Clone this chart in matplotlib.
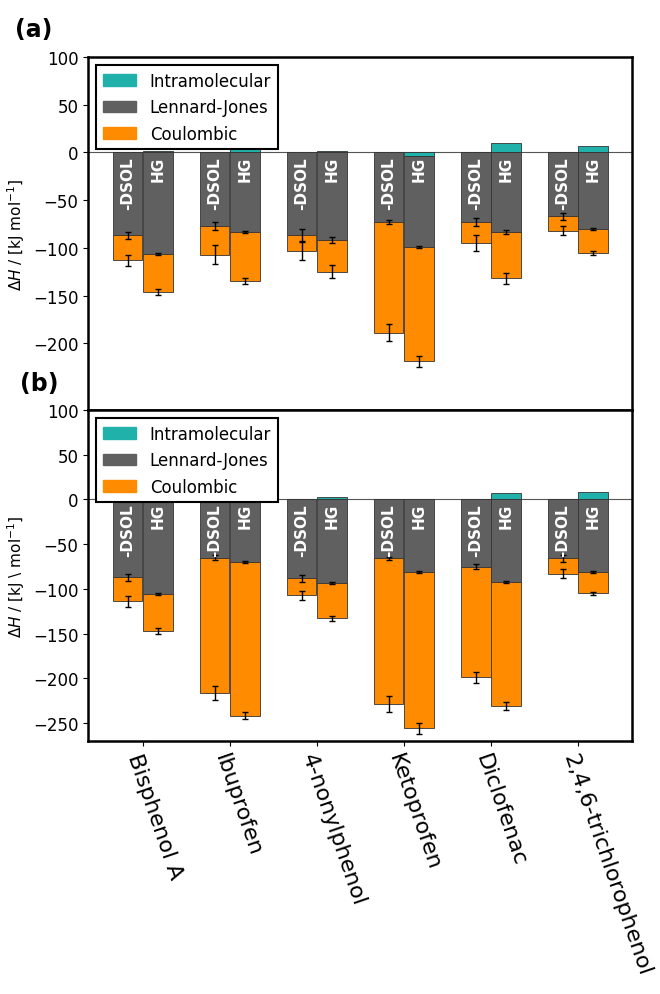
import numpy as np
import matplotlib
matplotlib.use("Agg")
import matplotlib.pyplot as plt
from matplotlib.patches import Patch

# compounds on the x axis
compounds = ["Bisphenol A", "Ibuprofen", "4-nonylphenol", "Ketoprofen",
             "Diclofenac", "2,4,6-trichlorophenol"]

# panel (a): energy components [kJ/mol]
a_dsol_intra = [0, 0, 0, 0, 0, 0]
a_dsol_lj = [-87, -77, -87, -73, -73, -67]
a_dsol_coul = [-26, -30, -16, -116, -22, -15]
a_hg_intra = [1, 6.5, 1, -4, 10, 6.5]
a_hg_lj = [-106, -83, -92, -95, -83, -80]
a_hg_coul = [-40, -52, -33, -120, -49, -25]

a_dsol_lj_err = [4, 4, 7, 2, 4, 4]
a_dsol_coul_err = [6, 10, 10, 9, 8, 5]
a_hg_lj_err = [1, 1, 3, 1, 2, 1]
a_hg_coul_err = [3, 3, 7, 6, 6, 2]

# panel (b)
b_dsol_intra = [0, 0, 0, 0, 0, 0]
b_dsol_lj = [-87, -65, -88, -66, -75, -66]
b_dsol_coul = [-27, -151, -19, -163, -124, -17]
b_hg_intra = [1, 0.5, 3, 0.5, 7, 8]
b_hg_lj = [-106, -70, -93, -81, -92, -81]
b_hg_coul = [-41, -172, -40, -175, -139, -24]

b_dsol_lj_err = [4, 3, 4, 2, 3, 4]
b_dsol_coul_err = [6, 8, 5, 9, 6, 5]
b_hg_lj_err = [1, 1, 1, 1, 1, 1]
b_hg_coul_err = [3, 4, 3, 6, 4, 2]

c_intra = "#20b2aa"
c_lj = "#606060"
c_coul = "#ff8c00"

plt.rcParams['font.family'] = ['DejaVu Sans']


def stacked(ax, xpos, intra, lj, coul, lj_err, coul_err, label):
    intra = np.array(intra, float)
    lj = np.array(lj, float)
    coul = np.array(coul, float)
    w = 0.34
    base = np.minimum(intra, 0)
    ax.bar(xpos, intra, w, color=c_intra, edgecolor='#333333', linewidth=0.6, zorder=2)
    ax.bar(xpos, lj, w, bottom=base, color=c_lj, edgecolor='#333333', linewidth=0.6, zorder=2)
    ax.bar(xpos, coul, w, bottom=base + lj, color=c_coul, edgecolor='#333333', linewidth=0.6, zorder=2)
    ax.errorbar(xpos, base + lj, yerr=lj_err, fmt='none', ecolor='black',
                elinewidth=1, capsize=2, zorder=3)
    ax.errorbar(xpos, base + lj + coul, yerr=coul_err, fmt='none', ecolor='black',
                elinewidth=1, capsize=2, zorder=3)
    for xx in xpos:
        ax.text(xx, -4, label, rotation=90, ha='center', va='top', color='white',
                fontsize=11, fontweight='bold', zorder=4)


def panel(ax, dsol, hg, ylabel):
    x = np.arange(len(compounds))
    off = 0.175
    stacked(ax, x - off, *dsol, "-DSOL")
    stacked(ax, x + off, *hg, "HG")
    ax.axhline(0, color='#555555', linewidth=0.8, zorder=1)
    ax.set_xlim(-0.63, 5.62)
    ax.set_ylim(-270, 100)
    ax.set_yticks([100, 50, 0, -50, -100, -150, -200, -250])
    ax.set_xticks(x)
    ax.tick_params(labelsize=12)
    ax.set_ylabel(ylabel, fontsize=11)
    for s in ax.spines.values():
        s.set_linewidth(1.8)
    handles = [Patch(color=c_intra, label="Intramolecular"),
               Patch(color=c_lj, label="Lennard-Jones"),
               Patch(color=c_coul, label="Coulombic")]
    leg = ax.legend(handles=handles, loc='upper left', fontsize=12, fancybox=False,
                    framealpha=1, borderaxespad=0.5)
    leg.get_frame().set_edgecolor('black')
    leg.get_frame().set_linewidth(1.5)


fig = plt.figure(figsize=(6.6, 9.95), dpi=100)
ax1 = fig.add_axes([0.1333, 0.5869, 0.8242, 0.3548])
ax2 = fig.add_axes([0.1333, 0.2543, 0.8242, 0.3327])

panel(ax1,
      (a_dsol_intra, a_dsol_lj, a_dsol_coul, a_dsol_lj_err, a_dsol_coul_err),
      (a_hg_intra, a_hg_lj, a_hg_coul, a_hg_lj_err, a_hg_coul_err),
      r"$\Delta H$ / [kJ mol$^{-1}$]")
panel(ax2,
      (b_dsol_intra, b_dsol_lj, b_dsol_coul, b_dsol_lj_err, b_dsol_coul_err),
      (b_hg_intra, b_hg_lj, b_hg_coul, b_hg_lj_err, b_hg_coul_err),
      r"$\Delta H$ / [kJ \ mol$^{-1}$]")

ax1.set_yticks([100, 50, 0, -50, -100, -150, -200])
ax1.tick_params(axis='x', bottom=False, labelbottom=False)
ax2.set_xticklabels(compounds, rotation=-71, ha='left', rotation_mode='anchor', fontsize=16)

fig.text(0.022, 0.963, "(a)", fontsize=17, fontweight='bold')
fig.text(0.03, 0.607, "(b)", fontsize=17, fontweight='bold')

fig.savefig("out.png", dpi=100)
